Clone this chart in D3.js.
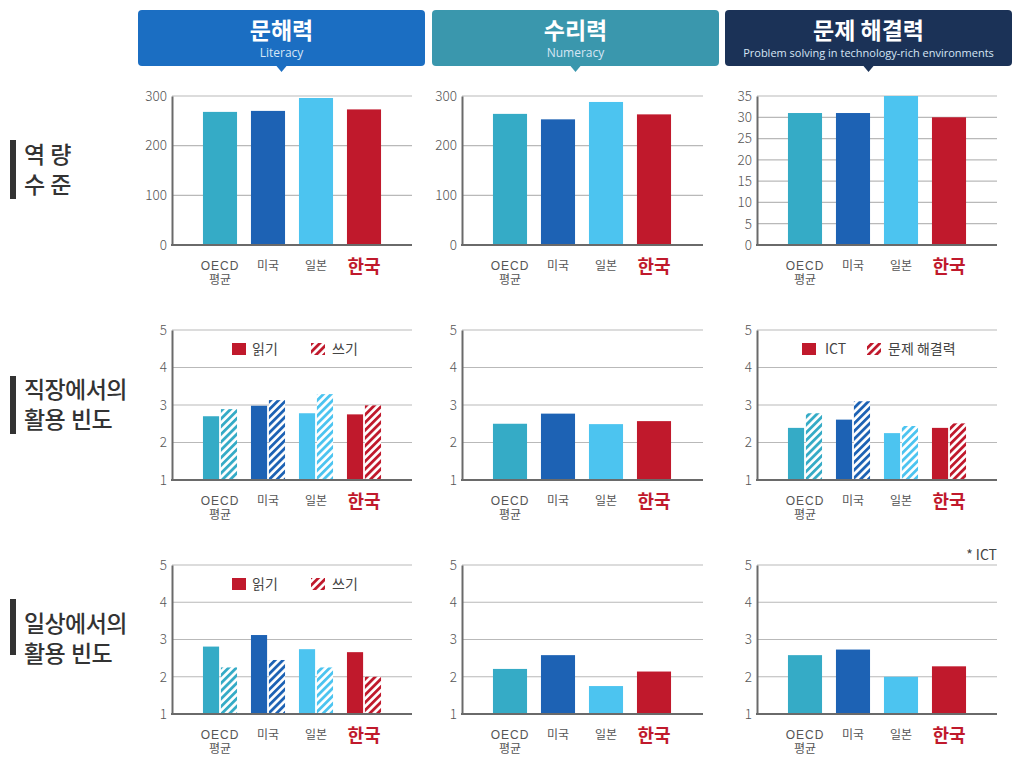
<!DOCTYPE html>
<html><head><meta charset="utf-8">
<script src="https://cdn.jsdelivr.net/npm/d3@7"></script>
<style>
html,body{margin:0;padding:0;background:#fff;}
svg{display:block;font-family:"Noto Sans CJK KR","Noto Sans",sans-serif;}
</style></head>
<body>
<svg id="chart" width="1024" height="777"></svg>
<script>
// ---- data ----
const categories = ["OECD 평균", "미국", "일본", "한국"];
const barColors = ["#35abc6", "#1d62b4", "#4cc4f0", "#c0192c"];

const headerTitles = ["문해력", "수리력", "문제 해결력"];
const headerSubtitles = ["Literacy", "Numeracy", "Problem solving in technology-rich environments"];
const headerColors = ["#1b6ec2", "#3a97ad", "#1b3257"];

const rowTitles = [["역량", "수준"], ["직장에서의", "활용 빈도"], ["일상에서의", "활용 빈도"]];

const literacyScore = [268, 270, 296, 273];
const numeracyScore = [264, 253, 288, 263];
const problemScore  = [31, 31, 35, 30];

const workReading   = [2.70, 2.98, 2.78, 2.75];
const workWriting   = [2.89, 3.13, 3.29, 2.99];
const workNumeracy  = [2.50, 2.77, 2.49, 2.57];
const workICT       = [2.39, 2.61, 2.25, 2.39];
const workProblem   = [2.78, 3.10, 2.44, 2.51];

const dailyReading  = [2.81, 3.12, 2.74, 2.66];
const dailyWriting  = [2.25, 2.45, 2.25, 2.00];
const dailyNumeracy = [2.21, 2.58, 1.75, 2.14];
const dailyICT      = [2.58, 2.73, 2.00, 2.28];

const scoreTicks = [0, 100, 200, 300];
const problemTicks = [0, 5, 10, 15, 20, 25, 30, 35];
const freqTicks = [1, 2, 3, 4, 5];

const legendReadWrite = ["읽기", "쓰기"];
const legendIctProblem = ["ICT", "문제 해결력"];
const footnote = "* ICT";

// ---- layout ----
const svg = d3.select("#chart");
const tightFont = "'Liberation Sans','Noto Sans CJK KR',sans-serif";
const colAxisX = [172, 462, 757];
const colRight = [412, 703, 997];
const rowY = [[245, 96], [480, 330], [714, 565]];

const defs = svg.append("defs");
barColors.forEach((c, i) => {
  const p = defs.append("pattern").attr("id", "hatch" + i)
    .attr("patternUnits", "userSpaceOnUse").attr("width", 5.5).attr("height", 5.5)
    .attr("patternTransform", "rotate(45)");
  p.append("rect").attr("width", 5.5).attr("height", 5.5).attr("fill", "#fff");
  p.append("rect").attr("width", 2.8).attr("height", 5.5).attr("fill", c);
});

// headers
const headerX = [138, 432, 725], headerW = 287;
headerTitles.forEach((t, i) => {
  const g = svg.append("g");
  const cx = headerX[i] + headerW / 2;
  g.append("rect").attr("x", headerX[i]).attr("y", 10).attr("width", headerW).attr("height", 56)
    .attr("rx", 4).attr("fill", headerColors[i]);
  g.append("path").attr("d", `M${cx - 5},66 L${cx + 5},66 L${cx},72 Z`).attr("fill", headerColors[i]);
  g.append("text").attr("x", cx).attr("y", 39).attr("text-anchor", "middle")
    .attr("font-size", 23).attr("font-weight", 700).attr("fill", "#fff").text(t);
  g.append("text").attr("x", cx).attr("y", 57).attr("text-anchor", "middle")
    .attr("font-family", "'Open Sans','Noto Sans',sans-serif")
    .attr("font-size", i === 2 ? 11 : 12).attr("fill", "#d6e6f5").text(headerSubtitles[i]);
});

// row titles
const rowTitleY = [163, 398, 632];
const rowBar = [[140, 199], [376, 434], [599, 655]];
rowTitles.forEach((lines, r) => {
  svg.append("rect").attr("x", 10).attr("y", rowBar[r][0]).attr("width", 6)
    .attr("height", rowBar[r][1] - rowBar[r][0]).attr("fill", "#333");
  lines.forEach((l, k) => {
    svg.append("text").attr("x", 24).attr("y", rowTitleY[r] + k * 30)
      .attr("font-family", tightFont).attr("font-size", 23)
      .attr("font-weight", 500).attr("letter-spacing", r === 0 ? 5 : -0.6).attr("fill", "#333").text(l);
  });
});

function panel(col, row, ticks, domain, series, legend) {
  const x0 = colAxisX[col], x1 = colRight[col];
  const [yb, yt] = rowY[row];
  const y = d3.scaleLinear().domain(domain).range([yb, yt]);
  const x = d3.scaleBand().domain(categories).range([x0 + 24, x0 + 24 + 192])
    .paddingInner(0.29).paddingOuter(0.145);
  const g = svg.append("g");

  // gridlines
  g.append("g").selectAll("line").data(ticks.filter(t => t !== domain[0])).join("line")
    .attr("x1", x0).attr("x2", x1).attr("y1", d => y(d)).attr("y2", d => y(d))
    .attr("stroke", "#b9b9b9").attr("stroke-width", 1.2);

  // y axis
  const ya = d3.axisLeft(y).tickValues(ticks).tickFormat(d3.format("d")).tickSize(0).tickPadding(5);
  const yg = g.append("g").attr("transform", `translate(${x0},0)`).call(ya);
  yg.select(".domain").attr("stroke", "#6a6a6a").attr("stroke-width", 2);
  yg.selectAll("text").attr("font-size", 13.5).attr("fill", "#555")
    .attr("font-family", "'Noto Sans CJK KR','Noto Sans',sans-serif").attr("font-weight", 300);

  // bars
  if (series.length === 1) {
    g.append("g").selectAll("rect").data(series[0]).join("rect")
      .attr("x", (d, i) => x(categories[i])).attr("width", x.bandwidth())
      .attr("y", d => y(d)).attr("height", d => yb - y(d))
      .attr("fill", (d, i) => barColors[i]);
  } else {
    const xs = d3.scaleBand().domain([0, 1]).range([0, x.bandwidth()]).paddingInner(0.1);
    series.forEach((s, k) => {
      g.append("g").selectAll("rect").data(s).join("rect")
        .attr("x", (d, i) => x(categories[i]) + xs(k)).attr("width", xs.bandwidth())
        .attr("y", d => y(d)).attr("height", d => yb - y(d))
        .attr("fill", (d, i) => k === 0 ? barColors[i] : `url(#hatch${i})`);
    });
  }

  // x axis line
  g.append("line").attr("x1", x0 - 1).attr("x2", x1).attr("y1", yb).attr("y2", yb)
    .attr("stroke", "#6a6a6a").attr("stroke-width", 2);

  // category labels
  categories.forEach((c, i) => {
    const cx = x(c) + x.bandwidth() / 2;
    if (i === 3) {
      g.append("text").attr("x", cx).attr("y", yb + 28).attr("text-anchor", "middle")
        .attr("font-size", 18).attr("font-weight", 700).attr("fill", "#c0192c").text(c);
    } else {
      const parts = c.split(" ");
      parts.forEach((p, k) => {
        g.append("text").attr("x", cx).attr("y", yb + 25 + k * 13.5).attr("text-anchor", "middle")
          .attr("font-family", tightFont)
          .attr("font-size", 12).attr("font-weight", 400).attr("fill", "#555")
          .attr("letter-spacing", p === "OECD" ? 1 : 0).text(p);
      });
    }
  });

  // legend
  if (legend) {
    const ly = yt + 13;
    const off = legend.offsets;
    g.append("rect").attr("x", x0 + off[0]).attr("y", ly).attr("width", 14).attr("height", 12).attr("fill", "#c0192c");
    g.append("text").attr("x", x0 + off[1]).attr("y", ly + 11).attr("font-size", 14).attr("fill", "#444").text(legend.labels[0]);
    g.append("rect").attr("x", x0 + off[2]).attr("y", ly).attr("width", 14).attr("height", 12).attr("fill", "url(#hatch3)");
    g.append("text").attr("x", x0 + off[3]).attr("y", ly + 11).attr("font-size", 14).attr("fill", "#444").text(legend.labels[1]);
  }
  return g;
}

// row 1
panel(0, 0, scoreTicks, [0, 300], [literacyScore]);
panel(1, 0, scoreTicks, [0, 300], [numeracyScore]);
panel(2, 0, problemTicks, [0, 35], [problemScore]);
// row 2
panel(0, 1, freqTicks, [1, 5], [workReading, workWriting], {labels: legendReadWrite, offsets: [60, 80, 139, 160]});
panel(1, 1, freqTicks, [1, 5], [workNumeracy]);
panel(2, 1, freqTicks, [1, 5], [workICT, workProblem], {labels: legendIctProblem, offsets: [45, 68, 110, 131]});
// row 3
panel(0, 2, freqTicks, [1, 5], [dailyReading, dailyWriting], {labels: legendReadWrite, offsets: [60, 80, 139, 160]});
panel(1, 2, freqTicks, [1, 5], [dailyNumeracy]);
panel(2, 2, freqTicks, [1, 5], [dailyICT]);

svg.append("text").attr("x", 997).attr("y", 560).attr("text-anchor", "end")
  .attr("font-size", 14).attr("fill", "#444").text(footnote);
</script>
</body></html>
